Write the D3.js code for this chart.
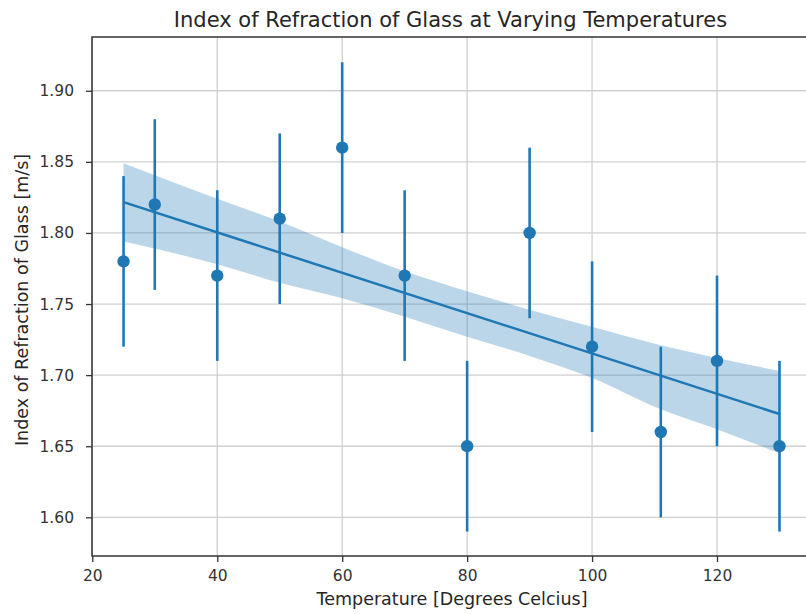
<!DOCTYPE html>
<meta charset="utf-8">
<style>
body { margin: 0; background: #fff; }
svg { font-family: "DejaVu Sans", sans-serif; }
.axis path { display: none; }
.axis line { stroke: #333; stroke-width: 1.3; }
.grid line { stroke: #d0d0d0; stroke-width: 1.3; }
</style>
<body>
<svg id="chart" width="806" height="614"></svg>
<script src="https://d3js.org/d3.v7.min.js"></script>
<script>
var temps = [25, 30, 40, 50, 60, 70, 80, 90, 100, 111, 120, 130];
var index = [1.78, 1.82, 1.77, 1.81, 1.86, 1.77, 1.65, 1.80, 1.72, 1.66, 1.71, 1.65];
var errs  = [0.06, 0.06, 0.06, 0.06, 0.06, 0.06, 0.06, 0.06, 0.06, 0.06, 0.06, 0.06];

// confidence band of the fit (bootstrapped in the original, so read by eye)
var bandTemps = [25, 40, 50, 60, 70, 80, 90, 100, 111, 120, 130];
var bandUpper = [1.849, 1.824, 1.808, 1.790, 1.773, 1.759, 1.746, 1.734, 1.721, 1.712, 1.703];
var bandLower = [1.794, 1.778, 1.765, 1.754, 1.741, 1.727, 1.7135, 1.698, 1.676, 1.662, 1.645];

var xTicks = [20, 40, 60, 80, 100, 120];
var yTicks = [1.60, 1.65, 1.70, 1.75, 1.80, 1.85, 1.90];

var blue = "#1f77b4";
// plot box (window.top is taken, so prefixed names)
var pLeft = 92, pTop = 37, pBottom = 556, pRight = 812.6;

var svg = d3.select("#chart");

var x = d3.scaleLinear().domain([19.95, 135.3]).range([pLeft, pRight]);
var y = d3.scaleLinear().domain([1.5728, 1.9378]).range([pBottom, pTop]);

// grid
var grid = svg.append("g").attr("class", "grid");
grid.selectAll(".gx").data(xTicks).enter().append("line")
    .attr("x1", d => x(d)).attr("x2", d => x(d))
    .attr("y1", pTop).attr("y2", pBottom);
grid.selectAll(".gy").data(yTicks).enter().append("line")
    .attr("x1", pLeft).attr("x2", pRight)
    .attr("y1", d => y(d)).attr("y2", d => y(d));

// band
var band = bandTemps.map((t, i) => ({t: t, hi: bandUpper[i], lo: bandLower[i]}));
svg.append("path")
    .datum(band)
    .attr("fill", blue)
    .attr("fill-opacity", 0.3)
    .attr("d", d3.area().curve(d3.curveMonotoneX)
        .x(d => x(d.t)).y0(d => y(d.lo)).y1(d => y(d.hi)));

// least squares fit
var mx = d3.mean(temps), my = d3.mean(index);
var sxy = d3.sum(temps, (t, i) => (t - mx) * (index[i] - my));
var sxx = d3.sum(temps, t => (t - mx) * (t - mx));
var slope = sxy / sxx, icpt = my - slope * mx;
var fitX = d3.extent(temps);
svg.append("path")
    .datum(fitX)
    .attr("fill", "none")
    .attr("stroke", blue)
    .attr("stroke-width", 2.5)
    .attr("d", d3.line().x(d => x(d)).y(d => y(icpt + slope * d)));

// error bars + points
var pts = temps.map((t, i) => ({t: t, v: index[i], e: errs[i]}));
svg.selectAll(".err").data(pts).enter().append("line")
    .attr("stroke", blue)
    .attr("stroke-width", 2.6)
    .attr("x1", d => x(d.t)).attr("x2", d => x(d.t))
    .attr("y1", d => y(d.v - d.e)).attr("y2", d => y(d.v + d.e));
svg.selectAll(".pt").data(pts).enter().append("circle")
    .attr("fill", blue)
    .attr("cx", d => x(d.t)).attr("cy", d => y(d.v)).attr("r", 6.2);

// frame
svg.append("rect")
    .attr("x", pLeft).attr("y", pTop)
    .attr("width", pRight - pLeft).attr("height", pBottom - pTop)
    .attr("fill", "none").attr("stroke", "#333").attr("stroke-width", 1.5);

// axes
var xAxis = svg.append("g").attr("class", "axis")
    .attr("transform", "translate(0," + pBottom + ")")
    .call(d3.axisBottom(x).tickValues(xTicks).tickSize(6).tickPadding(8));
var yAxis = svg.append("g").attr("class", "axis")
    .attr("transform", "translate(" + pLeft + ",0)")
    .call(d3.axisLeft(y).tickValues(yTicks).tickFormat(d3.format(".2f")).tickSize(6).tickPadding(12));
[xAxis, yAxis].forEach(function(g) {
    g.attr("font-family", null).attr("font-size", null);
    g.selectAll("text").attr("fill", "#333").attr("font-size", 15.5);
});

// labels
svg.append("text")
    .attr("x", 450.5).attr("y", 27)
    .attr("text-anchor", "middle")
    .attr("fill", "#262626").attr("font-size", 21)
    .text("Index of Refraction of Glass at Varying Temperatures");
svg.append("text")
    .attr("x", 452).attr("y", 605)
    .attr("text-anchor", "middle")
    .attr("fill", "#262626").attr("font-size", 17.5)
    .text("Temperature [Degrees Celcius]");
svg.append("text")
    .attr("transform", "translate(28,300) rotate(-90)")
    .attr("text-anchor", "middle")
    .attr("fill", "#262626").attr("font-size", 17.5)
    .text("Index of Refraction of Glass [m/s]");
</script>
</body>
